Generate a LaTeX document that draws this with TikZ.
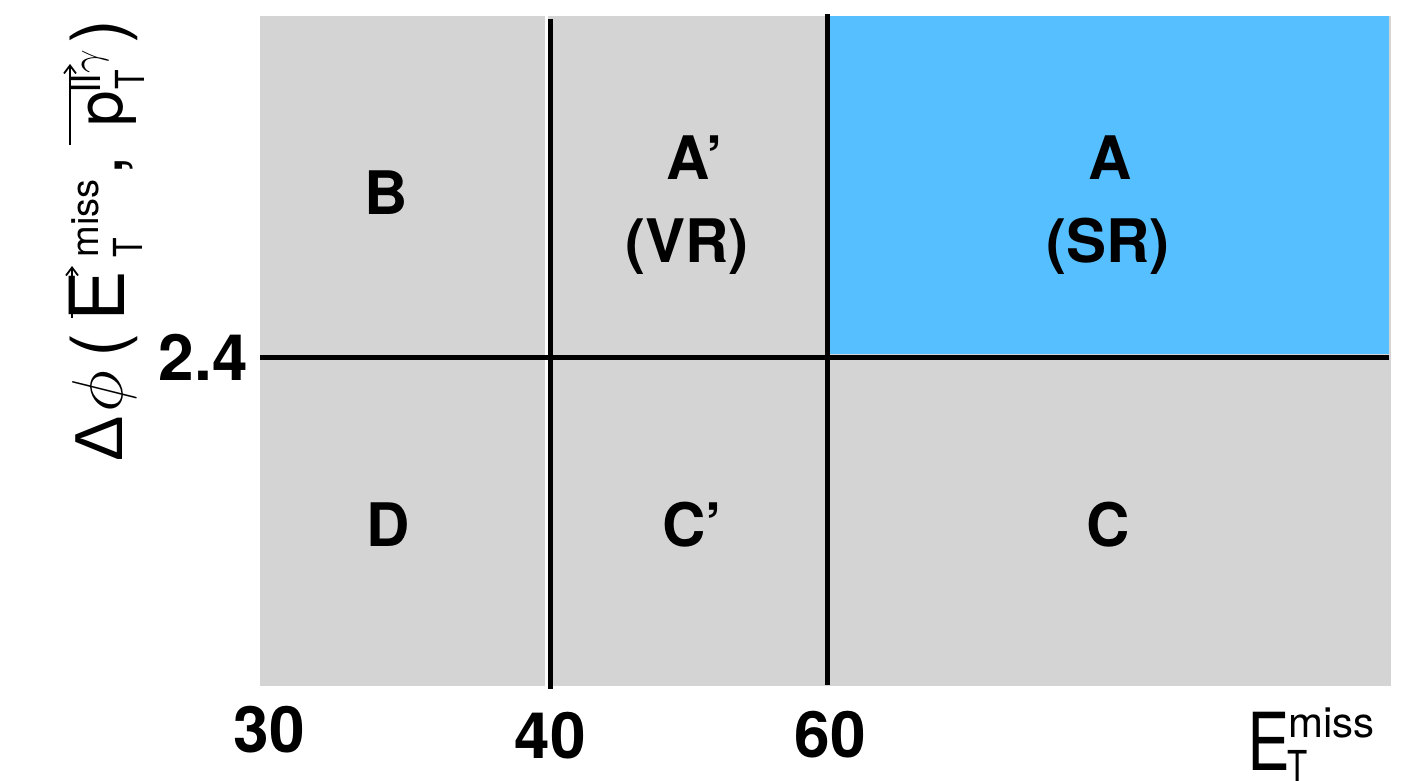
\RequirePackage{fix-cm}
\documentclass[tikz,border=0pt]{standalone}
\usepackage{fontspec}
\setmainfont{TeX Gyre Heros}
\newfontfamily\greekfont{Liberation Sans}
\usetikzlibrary{arrows.meta}

\definecolor{regiongray}{RGB}{212,212,212}
\definecolor{signalblue}{RGB}{86,191,255}

\newcommand\labsize{\fontsize{30}{34}\selectfont\bfseries}
\newcommand\ticksize{\fontsize{32}{36}\selectfont\bfseries}

\begin{document}
\begin{tikzpicture}[x=0.5pt,y=-0.5pt,
  region/.style={anchor=base,inner sep=0pt,font=\labsize},
  tick/.style={inner sep=0pt,font=\ticksize},
  cut/.style={line width=2.5pt,black},
  piece/.style={inner sep=0pt,anchor=base west},
  ypiece/.style={inner sep=0pt,anchor=base west,rotate=90},
  vec/.style={line width=0.9pt,-{Straight Barb[length=4pt,width=6pt]}},
]
\useasboundingbox (0,0) rectangle (1419,781);

% regions of the plane
\fill[regiongray] (260,16) rectangle (1391,686);
\fill[signalblue] (830,16) rectangle (1389,354);

% cut lines
\fill[white] (545,16) rectangle (547.5,686);
\draw[cut] (550,19) -- (550,689);
\draw[cut] (827.5,14) -- (827.5,685);
\draw[cut] (260,357) -- (1389,357);

% region names
\node[region] (B)  at (386,214) {B};
\node[region] (Ap) at (695,179) {A’};
\node[region] (VR) at (687,262) {(VR)};
\node[region] (A)  at (1110,179) {A};
\node[region] (SR) at (1108,262) {(SR)};
\node[region] (D)  at (388,546) {D};
\node[region] (Cp) at (692,546) {C’};
\node[region] (C)  at (1108,546) {C};

% tick values
\node[tick,anchor=base east] (t24) at (248,380) {2.4};
\node[tick,anchor=base] (t30) at (269,752) {30};
\node[tick,anchor=base] (t40) at (550,758) {40};
\node[tick,anchor=base] (t60) at (830,757) {60};

% x axis title
\node[piece,font=\fontsize{40}{44}\selectfont] (xE) at (1247,770) {\scalebox{0.8}[1]{E}};
\node[piece,font=\fontsize{21}{24}\selectfont] (xmiss) at (1288,737) {miss};
\node[piece,font=\fontsize{22}{24}\selectfont] (xT) at (1287,782) {\scalebox{0.75}[1]{T}};

% y axis title, set piece by piece along the rotated baseline
\node[ypiece,font=\fontsize{34}{38}\selectfont\greekfont] (yD) at (122,462) {Δ};
\node[ypiece,font=\fontsize{36}{40}\selectfont] (yphi) at (122,413) {$\phi$};
\node[ypiece,font=\fontsize{36}{40}\selectfont] (ylp) at (122,358) {(};
\node[ypiece,font=\fontsize{38}{42}\selectfont] (yE) at (124,322) {E};
\coordinate (yEa) at (72,318);
\coordinate (yEb) at (72,266);
\draw[vec] (yEa) -- (yEb);
\node[ypiece,font=\fontsize{19}{22}\selectfont] (ymiss) at (98,258) {miss};
\node[ypiece,font=\fontsize{20}{22}\selectfont] (yT1) at (142,258) {\scalebox{0.8}[1]{T}};
\node[ypiece,font=\fontsize{36}{40}\selectfont] (ycomma) at (122,176) {,};
\node[ypiece,font=\fontsize{32}{36}\selectfont] (yp) at (122,127) {p};
\coordinate (ypa) at (70,145);
\coordinate (ypb) at (70,64);
\draw[vec] (ypa) -- (ypb);
\node[ypiece,font=\fontsize{21}{24}\selectfont] (yll) at (100,93) {ll$\gamma$};
\node[ypiece,font=\fontsize{20}{22}\selectfont] (yT2) at (144,90) {\scalebox{0.8}[1]{T}};
\node[ypiece,font=\fontsize{36}{40}\selectfont] (yrp) at (122,44) {)};
\end{tikzpicture}
\end{document}
